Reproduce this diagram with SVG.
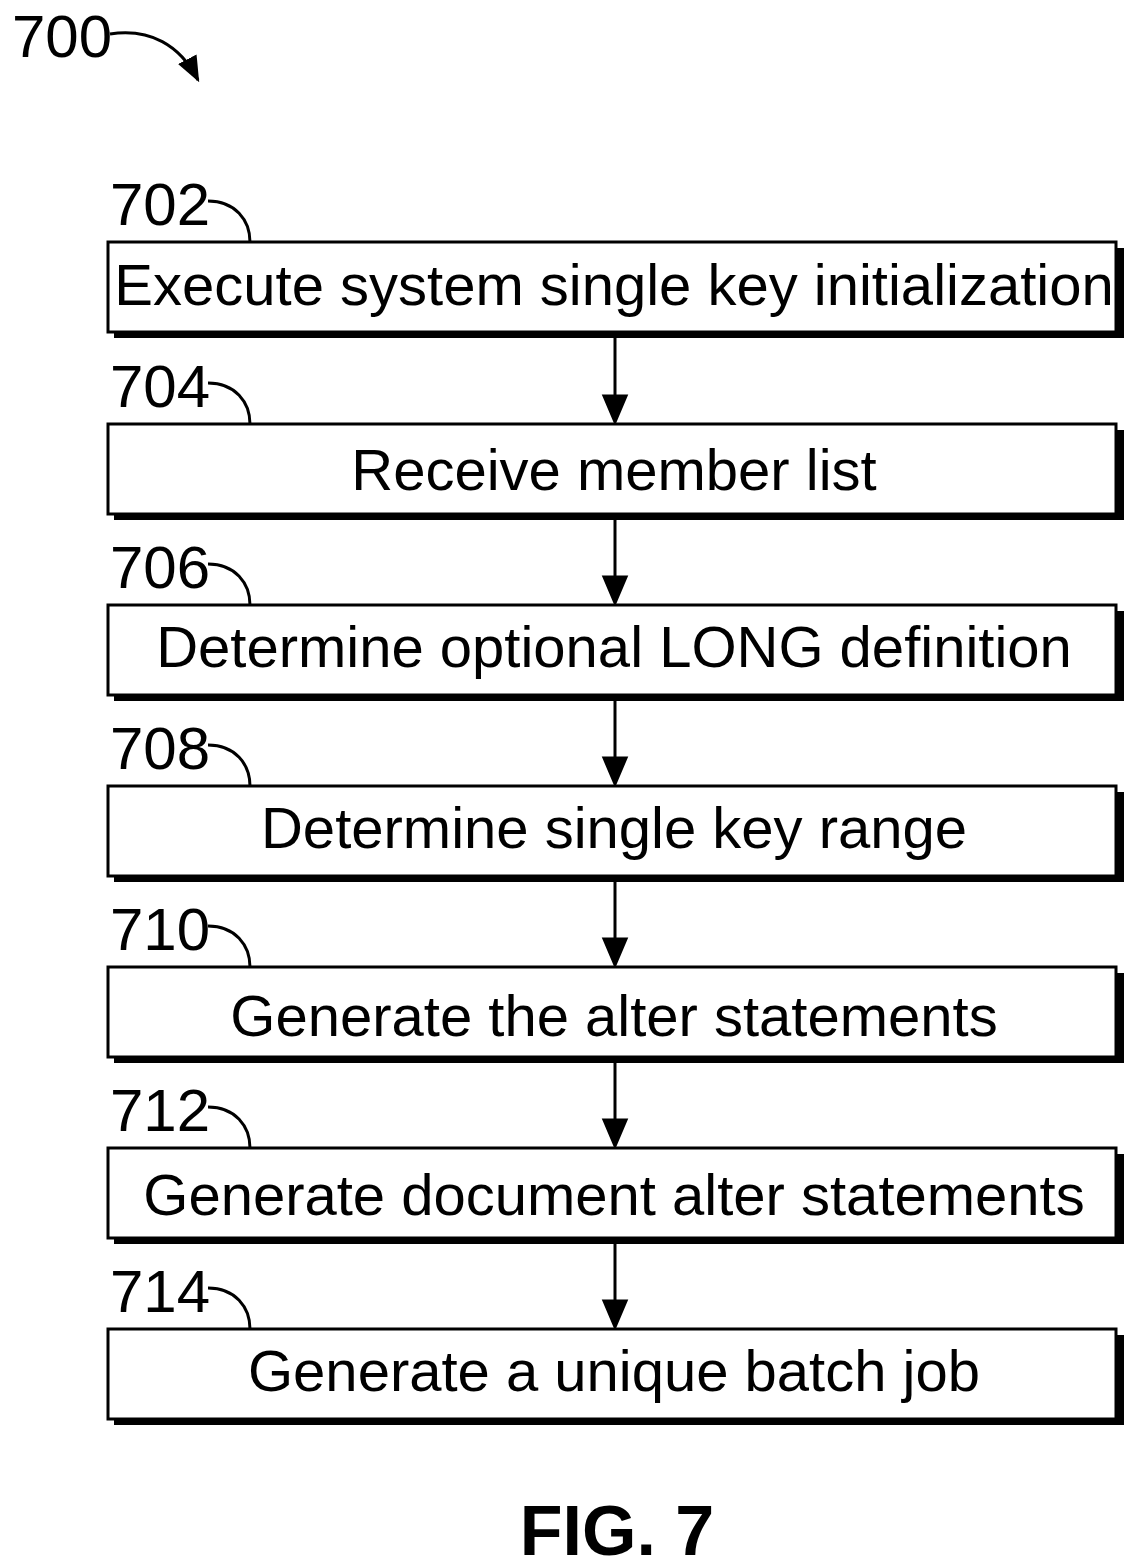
<svg xmlns="http://www.w3.org/2000/svg" width="1146" height="1567" viewBox="0 0 1146 1567">
<style>
.box{fill:#fff;stroke:#000;stroke-width:3}
.sh{fill:#000}
.t{font-family:"Liberation Sans",Arial,sans-serif;font-size:58px;text-anchor:middle}
.n{font-family:"Liberation Sans",Arial,sans-serif;font-size:60px}
.ld{fill:none;stroke:#000;stroke-width:3}
</style>
<defs><marker id="a" markerWidth="10" markerHeight="10" refX="9" refY="5" orient="auto" markerUnits="userSpaceOnUse" viewBox="0 0 10 10"><path d="M0,0L10,5L0,10z"/></marker>
<marker id="b" viewBox="0 0 10 10" refX="9" refY="5" markerWidth="26" markerHeight="26" orient="auto" markerUnits="userSpaceOnUse"><path d="M0,1L10,5L0,9z"/></marker></defs>
<text class="n" x="12" y="57">700</text>
<path class="ld" d="M110,34 C150,28 180,45 198,80" marker-end="url(#b)"/>
<g id="connectors" stroke="#000" stroke-width="3">
<line x1="615" y1="338" x2="615" y2="420"/><path d="M604,396L615,422L626,396z"/>
<line x1="615" y1="520" x2="615" y2="601"/><path d="M604,577L615,603L626,577z"/>
<line x1="615" y1="701" x2="615" y2="782"/><path d="M604,758L615,784L626,758z"/>
<line x1="615" y1="882" x2="615" y2="963"/><path d="M604,939L615,965L626,939z"/>
<line x1="615" y1="1063" x2="615" y2="1144"/><path d="M604,1120L615,1146L626,1120z"/>
<line x1="615" y1="1244" x2="615" y2="1325"/><path d="M604,1301L615,1327L626,1301z"/>
</g>
<g id="n702"><rect class="sh" x="114" y="248" width="1010" height="90"/><rect class="box" x="108" y="242" width="1008" height="90"/><text class="t" x="614" y="305">Execute system single key initialization</text><text class="n" x="110" y="225">702</text><path class="ld" d="M208,201 C235,201 250,220 250,242"/></g>
<g id="n704"><rect class="sh" x="114" y="430" width="1010" height="90"/><rect class="box" x="108" y="424" width="1008" height="90"/><text class="t" x="614" y="490">Receive member list</text><text class="n" x="110" y="407">704</text><path class="ld" d="M208,383 C235,383 250,402 250,424"/></g>
<g id="n706"><rect class="sh" x="114" y="611" width="1010" height="90"/><rect class="box" x="108" y="605" width="1008" height="90"/><text class="t" x="614" y="667">Determine optional LONG definition</text><text class="n" x="110" y="588">706</text><path class="ld" d="M208,564 C235,564 250,583 250,605"/></g>
<g id="n708"><rect class="sh" x="114" y="792" width="1010" height="90"/><rect class="box" x="108" y="786" width="1008" height="90"/><text class="t" x="614" y="848">Determine single key range</text><text class="n" x="110" y="769">708</text><path class="ld" d="M208,745 C235,745 250,764 250,786"/></g>
<g id="n710"><rect class="sh" x="114" y="973" width="1010" height="90"/><rect class="box" x="108" y="967" width="1008" height="90"/><text class="t" x="614" y="1036">Generate the alter statements</text><text class="n" x="110" y="950">710</text><path class="ld" d="M208,926 C235,926 250,945 250,967"/></g>
<g id="n712"><rect class="sh" x="114" y="1154" width="1010" height="90"/><rect class="box" x="108" y="1148" width="1008" height="90"/><text class="t" x="614" y="1215">Generate document alter statements</text><text class="n" x="110" y="1131">712</text><path class="ld" d="M208,1107 C235,1107 250,1126 250,1148"/></g>
<g id="n714"><rect class="sh" x="114" y="1335" width="1010" height="90"/><rect class="box" x="108" y="1329" width="1008" height="90"/><text class="t" x="614" y="1391">Generate a unique batch job</text><text class="n" x="110" y="1312">714</text><path class="ld" d="M208,1288 C235,1288 250,1307 250,1329"/></g>
<text x="617" y="1555" style="font-family:'Liberation Sans',Arial,sans-serif;font-size:70px;font-weight:bold;text-anchor:middle">FIG. 7</text>
</svg>
